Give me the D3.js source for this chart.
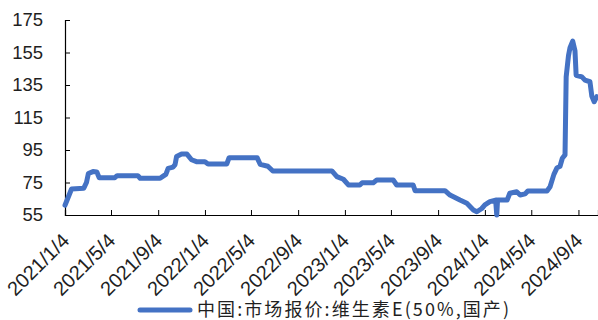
<!DOCTYPE html>
<html>
<head>
<meta charset="utf-8">
<script src="https://cdn.jsdelivr.net/npm/d3@7"></script>
<style>
  html, body { margin: 0; padding: 0; background: #fff; }
  svg { display: block; }
</style>
</head>
<body>
<svg id="chart" width="598" height="320"></svg>
<script>
// Vitamin E (50%, domestic) market quotation, CNY/kg
const dates = [
  "2021-01-04","2021-01-21","2021-02-22","2021-03-01","2021-03-06","2021-03-18","2021-03-28","2021-04-03",
  "2021-05-14","2021-05-20","2021-07-13","2021-07-19","2021-09-09","2021-09-17","2021-09-24","2021-09-30",
  "2021-10-13","2021-10-18","2021-10-22","2021-11-04","2021-11-18","2021-11-30","2021-12-13","2022-01-04",
  "2022-01-12","2022-03-02","2022-03-08","2022-05-20","2022-05-28","2022-06-17","2022-06-30","2022-12-01",
  "2022-12-14","2022-12-31","2023-01-13","2023-02-12","2023-02-18","2023-03-19","2023-03-28","2023-05-10",
  "2023-05-19","2023-07-01","2023-07-06","2023-09-22","2023-10-05","2023-10-31","2023-11-18","2023-12-05",
  "2023-12-14","2023-12-27","2024-01-04","2024-01-17","2024-02-01","2024-02-04","2024-02-06","2024-03-02",
  "2024-03-09","2024-03-27","2024-04-05","2024-04-18","2024-04-25","2024-06-14","2024-06-22","2024-07-02",
  "2024-07-10","2024-07-18","2024-07-24","2024-07-31","2024-08-03","2024-08-09","2024-08-13","2024-08-20",
  "2024-08-26","2024-08-29","2024-09-13","2024-09-21","2024-10-04","2024-10-09","2024-10-15","2024-10-22"
];
const prices = [
  61, 71, 71.5, 75, 80.5, 81.7, 81.5, 78,
  78, 79.2, 79.2, 77.6, 77.6, 78.9, 80, 83.7,
  84.5, 86, 91, 92.5, 92.5, 89, 87.8, 87.8,
  86.4, 86.4, 90.3, 90.3, 86.2, 85, 82.1, 82.1,
  78.6, 77, 73.5, 73.5, 74.9, 74.9, 76.5, 76.5,
  73.5, 73.5, 70, 70, 67.3, 64.2, 62.2, 58.1,
  57, 59, 61.2, 63.2, 64.2, 55, 64.2, 64.2,
  68.4, 69.3, 67.3, 68, 69.8, 69.8, 72.4, 80,
  84, 85, 89.9, 92, 140, 153, 158, 162,
  156, 141, 140, 138, 137, 128, 124.7, 127.8
];
const yTicks = [55, 75, 95, 115, 135, 155, 175];
const xTickLabels = ["2021/1/4","2021/5/4","2021/9/4","2022/1/4","2022/5/4","2022/9/4",
  "2023/1/4","2023/5/4","2023/9/4","2024/1/4","2024/5/4","2024/9/4"];
const seriesName = "中国:市场报价:维生素E(50%,国产)";

const parse = d3.timeParse("%Y-%m-%d");
const parseTick = d3.timeParse("%Y/%m/%d");
const data = dates.map((d, i) => ({ date: parse(d), value: prices[i] }));

const svg = d3.select("#chart");
const margin = { left: 65, right: 0, top: 20, bottom: 105 };
const W = 598, H = 320;

const x = d3.scaleTime()
  .domain([parse("2021-01-04"), parse("2024-10-25")])
  .range([margin.left, W - margin.right]);
const y = d3.scaleLinear()
  .domain([55, 175])
  .range([H - margin.bottom, margin.top]);

const textColor = "#1f1f1f";
const numFont = "'Liberation Sans', Arial, sans-serif";

// y axis
const yAxis = d3.axisLeft(y).tickValues(yTicks).tickSize(-5).tickPadding(22);
const gy = svg.append("g").attr("transform", `translate(${margin.left},0)`).call(yAxis);
gy.select(".domain").attr("stroke", "#000").attr("stroke-width", 1.2);
gy.selectAll(".tick line").attr("stroke", "#000");
gy.selectAll(".tick text")
  .attr("fill", textColor)
  .style("font-family", numFont)
  .style("font-size", "18.5px");

// x axis
const tickDates = xTickLabels.map(s => parseTick(s));
const xAxis = d3.axisBottom(x).tickValues(tickDates).tickSize(-5)
  .tickFormat((d, i) => xTickLabels[i]);
const gx = svg.append("g").attr("transform", `translate(0,${H - margin.bottom})`).call(xAxis);
gx.select(".domain").attr("stroke", "#000").attr("stroke-width", 1.2);
gx.selectAll(".tick line").attr("stroke", "#000");
gx.selectAll(".tick text")
  .attr("fill", textColor)
  .style("font-family", numFont)
  .style("font-size", "20px")
  .attr("text-anchor", "end")
  .attr("dy", null)
  .attr("y", 0)
  .attr("transform", "translate(5,27) rotate(-45)");

// price line
const line = d3.line()
  .x(d => x(d.date))
  .y(d => y(d.value));

svg.append("path")
  .datum(data)
  .attr("fill", "none")
  .attr("stroke", "#4472C4")
  .attr("stroke-width", 5)
  .attr("stroke-linejoin", "round")
  .attr("stroke-linecap", "round")
  .attr("d", line);

// legend
const legend = svg.append("g").attr("transform", "translate(0,310)");
legend.append("line")
  .attr("x1", 140).attr("x2", 190)
  .attr("y1", 0).attr("y2", 0)
  .attr("stroke", "#4472C4")
  .attr("stroke-width", 5)
  .attr("stroke-linecap", "round");
legend.append("text")
  .attr("x", 197)
  .attr("y", 0)
  .attr("dy", "0.36em")
  .attr("fill", textColor)
  .attr("textLength", 312)
  .attr("lengthAdjust", "spacing")
  .style("font-family", "'Noto Sans CJK SC', 'Liberation Sans', sans-serif")
  .style("font-size", "18px")
  .text(seriesName);
</script>
</body>
</html>
